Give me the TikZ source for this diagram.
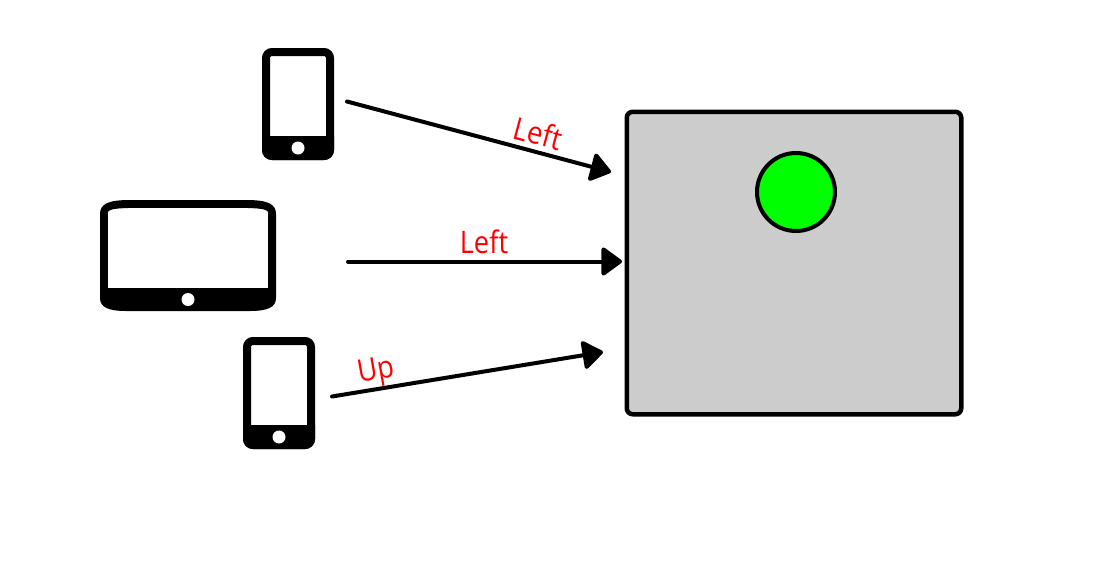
\documentclass[tikz,border=0pt]{standalone}
\usepackage{fontspec}
\setmainfont{Open Sans}
\usetikzlibrary{arrows.meta}
\begin{document}
\begin{tikzpicture}[x=1pt, y=-1pt,
	phone/.style = {draw, line width=8pt, rounded corners=6pt, minimum width=64pt, minimum height=104pt, inner sep=0pt},
	tablet/.style = {fill=white, minimum width=160pt, minimum height=80pt, inner sep=0pt},
	homekey/.style = {circle, fill=white, minimum size=13pt, inner sep=0pt},
	screen/.style = {draw, line width=4.5pt, rounded corners=6pt, fill={rgb,255:red,204;green,204;blue,204}, minimum width=334.5pt, minimum height=302.5pt, inner sep=0pt},
	ball/.style = {draw, circle, line width=4pt, fill={rgb,255:red,0;green,255;blue,0}, minimum size=78pt, inner sep=0pt},
	move/.style = {line width=4pt, line cap=round, -{Triangle[length=22pt,width=31pt,round]}},
	cmd/.style = {text=red, inner sep=0pt}]
	\useasboundingbox (0,0) rectangle (1115,570);
	\newcommand{\cmdtext}[1]{\scalebox{.88}[1]{\fontsize{31}{31}\selectfont #1}}
	% devices
	\node[phone] (p1) at (298,104) {};
	\fill (262,136) [rounded corners=10pt] -- (262,160) -- (334,160) [sharp corners] -- (334,136) -- cycle;
	\node[homekey] (k1) at (298,148) {};
	% tablet body, top edge is bowed
	\fill (100,214) .. controls (100,204) and (108,200) .. (130,200) -- (246,200) .. controls (268,200) and (276,204) .. (276,214)
		-- (276,298) .. controls (276,307) and (268,311) .. (250,311) -- (126,311) .. controls (108,311) and (100,307) .. (100,298) -- cycle;
	\node[tablet] (t1) at (188,248) {};
	\fill (107.5,207.5) -- (107.5,213) .. controls (108,209.5) and (113,208.5) .. (128,208) -- cycle;
	\fill (268.5,207.5) -- (268.5,213) .. controls (268,209.5) and (263,208.5) .. (248,208) -- cycle;
	\node[homekey] (k2) at (188,299.5) {};
	\node[phone] (p2) at (279,393) {};
	\fill (243,425) [rounded corners=10pt] -- (243,449) -- (315,449) [sharp corners] -- (315,425) -- cycle;
	\node[homekey] (k3) at (279,437) {};
	% game
	\node[screen] (s) at (794,263) {};
	\node[ball] (b) at (796,192) {};
	% arrows
	\coordinate (a1) at (347,101.5);
	\coordinate (e1) at (611,172);
	\coordinate (a2) at (348,261.5);
	\coordinate (e2) at (622,261.5);
	\coordinate (a3) at (332,396.5);
	\coordinate (e3) at (603,352);
	\draw[move] (a1) -- (e1);
	\draw[move] (a2) -- (e2);
	\draw[move] (a3) -- (e3);
	\node[cmd, rotate=-15] (l1) at (538,133) {\cmdtext{Left}};
	\node[cmd] (l2) at (484,242) {\cmdtext{Left}};
	\node[cmd, rotate=10] (l3) at (376,372.5) {\cmdtext{Up}};
\end{tikzpicture}
\end{document}
